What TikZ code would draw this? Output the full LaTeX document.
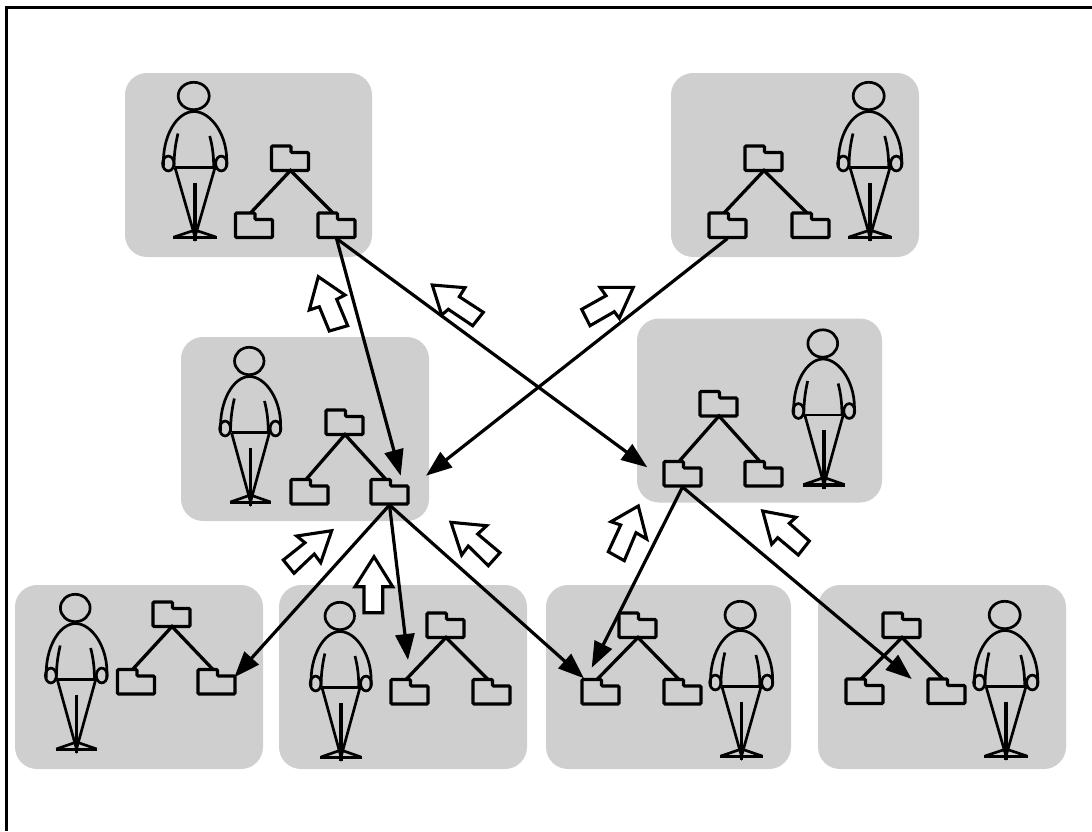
\documentclass[tikz,border=0pt]{standalone}
\usepackage{xcolor}
\usepackage{tikz}
\usetikzlibrary{arrows.meta}
\definecolor{panelgray}{RGB}{207, 207, 207}
\tikzset{
	panel/.style={fill=panelgray, rounded corners=22pt, inner sep=0pt, minimum width=#1, minimum height=184pt},
	figline/.style={black, line width=2.7pt},
	treeline/.style={black, line width=3.3pt},
	folderline/.style={black, line width=3.1pt, rounded corners=1pt, line join=miter},
	linkarrow/.style={black, line width=3.2pt, -{Triangle[length=26pt, width=19pt]}},
	blockarrow/.style={draw=black, fill=white, line width=3.1pt, line join=miter},
}
% One stick figure, origin on its centre line at head height
\newcommand{\person}[3]{
	\begin{scope}[shift={(#1,#2)}, xscale=#3]
		\draw[figline] (-1.3,0) ellipse (15.5pt and 13.7pt);
		\draw[figline] (-31.5,70) .. controls (-33,40) and (-18,15.5) .. (-1,15.5) .. controls (16,15.5) and (34,40) .. (31.5,70);
		\draw[figline] (-17,37.5) .. controls (-20,50) and (-21,60) .. (-21,71);
		\draw[figline] (14.7,40) .. controls (17.5,50) and (18.7,60) .. (18.7,71);
		\draw[figline] (-26.7,67.5) ellipse (5.7pt and 7.4pt);
		\draw[figline] (26.3,67.5) ellipse (5.7pt and 7.4pt);
		\draw[figline] (-20,71.5) -- (20,71.5);
		\draw[figline] (-20,71.5) -- (0,141) -- (20,71.5);
		\draw[figline, line width=3.1pt] (0,86.5) -- (0,145);
		\draw[figline] (-21,141) -- (0,134) -- (21,141);
		\draw[figline, line width=3.3pt] (-21.7,141.5) -- (21.7,141.5);
	\end{scope}
}
% One folder: left edge, bottom edge
\newcommand{\folder}[2]{
	\draw[folderline] (#1,#2) -- ++(0,-24.5) -- ++(19.5,0) -- ++(0,6.5) -- ++(17.5,0) -- ++(0,18) -- cycle;
}
% Folder tree: name, root left, root bottom, left child left, right child left, child bottom
\newcommand{\foldertree}[6]{
	\coordinate (#1-root) at (#2+19,#3);
	\coordinate (#1-left) at (#4+15,#6-24.5);
	\coordinate (#1-right) at (#5+15,#6-24.5);
	\coordinate (#1-leftout) at (#4+18.5,#6+1);
	\coordinate (#1-rightout) at (#5+18.5,#6+1);
	\draw[treeline] (#1-left) -- (#1-root) -- (#1-right);
	\folder{#2}{#3}
	\folder{#4}{#6}
	\folder{#5}{#6}
}

\begin{document}
\begin{tikzpicture}[x=1pt, y=-1pt]
	\useasboundingbox (0,0) rectangle (1092,831);

	% Frame, top and left only
	\coordinate (frametop) at (1092,7);
	\coordinate (framecorner) at (6,7);
	\coordinate (framebottom) at (6,831);
	\draw[black, line width=3pt] (frametop) -- (framecorner) -- (framebottom);

	% Grey panels
	\foreach \nm/\xc/\yc/\w in {A/248.5/165/247pt, B/795/165/248pt, C/305/429/248pt, D/759.5/410.5/245pt, E/139/677/248pt, F/403/677/248pt, G/668.5/677/245pt, H/942/677/248pt}
		\node[panel=\w] (panel\nm) at (\xc,\yc) {};

	% Figures
	\foreach \x/\y/\sx in {195/96/1, 870/96/1, 250.5/361/0.95, 824/343.5/0.96, 76.5/608/0.96, 341/616/0.95, 741.5/615/0.98, 1006/615/1} {
		\person{\x}{\y}{\sx}
	}

	% Folder trees
	\foldertree{treeA}{271.5}{170.5}{235.5}{318}{237.5}
	\foldertree{treeB}{745}{170.5}{709}{792}{237.5}
	\foldertree{treeC}{326}{434.5}{291}{371}{504}
	\foldertree{treeD}{700}{416}{664}{745}{486}
	\foldertree{treeE}{153}{626.5}{117.5}{198}{694}
	\foldertree{treeF}{427}{637.5}{391}{473}{704}
	\foldertree{treeG}{619}{637.5}{582}{664}{704}
	\foldertree{treeH}{883}{637.5}{846}{928}{703.5}

	% Free ends of the links
	\coordinate (tipC) at (400.7,475.7);
	\coordinate (tipCb) at (426,475.7);
	\coordinate (tipD) at (647.3,467.3);
	\coordinate (tipE) at (234.3,677.3);
	\coordinate (tipF) at (408,660);
	\coordinate (tipG) at (584,678.3);
	\coordinate (tipGb) at (591.7,667.7);
	\coordinate (tipH) at (911.7,679);

	% Links between folders
	\draw[linkarrow] (treeA-rightout) -- (tipC);
	\draw[linkarrow] (treeA-rightout) -- (tipD);
	\draw[linkarrow] (treeB-leftout) -- (tipCb);
	\draw[linkarrow] (treeC-rightout) -- (tipE);
	\draw[linkarrow] (treeC-rightout) -- (tipF);
	\draw[linkarrow] (treeC-rightout) -- (tipG);
	\draw[linkarrow] (treeD-leftout) -- (tipGb);
	\draw[linkarrow] (treeD-leftout) -- (tipH);

	% Hollow block arrows
	\draw[blockarrow] (318.3,276.7) -- (345,295) -- (336.7,299.3) -- (347.7,325.7) -- (329.3,331) -- (319.3,306.7) -- (309.3,310) -- cycle;
	\draw[blockarrow] (432.3,285) -- (465,287.7) -- (459.3,296.7) -- (483.3,312.3) -- (472.7,325.7) -- (448.3,309.3) -- (441.7,315) -- cycle;
	\draw[blockarrow] (331.7,530.7) -- (320.7,562.7) -- (314.3,554) -- (294,573.3) -- (283.3,560) -- (305,542.7) -- (296.7,536) -- cycle;
	\draw[blockarrow] (374,556.7) -- (392.7,586.7) -- (382.7,586.7) -- (382.7,612.7) -- (364,612.7) -- (364,586.7) -- (355,586.7) -- cycle;
	\draw[blockarrow] (451,522.3) -- (486.7,525.7) -- (477.7,534) -- (500,552.7) -- (488.3,565.7) -- (468.3,546) -- (461.7,555) -- cycle;
	\draw[blockarrow] (633.3,287.3) -- (619.3,318.3) -- (614.3,311.7) -- (590,325.7) -- (581.7,309.3) -- (606,295.7) -- (600,287.3) -- cycle;
	\draw[blockarrow] (638.3,506) -- (646.7,539) -- (636,532.7) -- (624.3,560.7) -- (608.3,551.7) -- (620.7,525) -- (611,521.7) -- cycle;
	\draw[blockarrow] (762.7,511) -- (796,517.3) -- (789.3,523.3) -- (809.3,541) -- (798.3,555) -- (777.7,537.7) -- (771.7,544.3) -- cycle;
\end{tikzpicture}
\end{document}
